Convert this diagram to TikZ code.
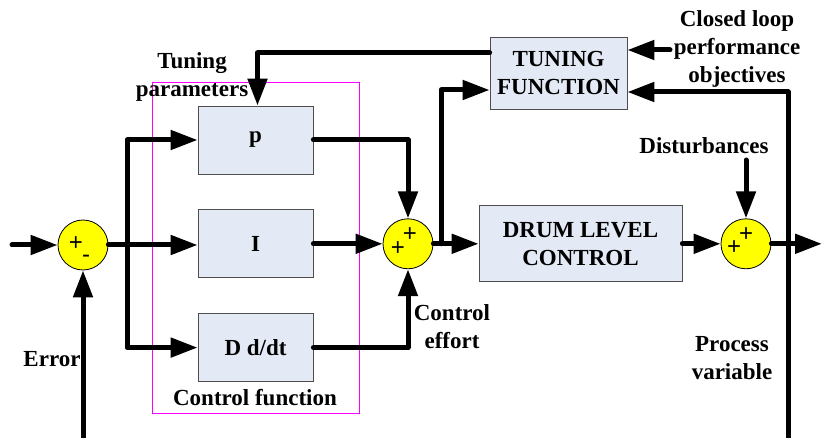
\documentclass[tikz,border=0pt]{standalone}
\usepackage{fontspec}
\setmainfont{Liberation Serif}
\setsansfont{Liberation Sans}
\usetikzlibrary{arrows.meta,positioning}
\definecolor{blockBlue}{HTML}{E4EAF5}
\definecolor{blockEdge}{HTML}{4D4D4D}
\definecolor{sumYellow}{HTML}{FFFF00}
\definecolor{frameMagenta}{HTML}{FF00FF}

\begin{document}
\begin{tikzpicture}[x=1pt, y=-1pt,
  block/.style={draw=blockEdge, fill=blockBlue, line width=0.8pt, align=center, font=\fontsize{23}{28}\selectfont\bfseries},
  pid/.style={block, minimum width=115pt, minimum height=68pt},
  summer/.style={circle, draw=black, line width=0.8pt, fill=sumYellow, minimum size=50pt, inner sep=0pt},
  sign/.style={inner sep=0pt, font=\fontsize{24}{24}\selectfont\sffamily},
  lbl/.style={align=center, inner sep=0pt, font=\fontsize{23}{28}\selectfont\bfseries},
  arrow/.style={-{Triangle[length=27pt, width=19pt]}, line width=5pt, line join=round, line cap=round}
]
\useasboundingbox (0,0) rectangle (822,438);
\draw[frameMagenta, line width=1pt] (152,83) rectangle (359,413);
\node[summer] (sum1) at (83,245) {};
\node[pid] (p) at (255.5,140) {p};
\node[pid, below=35pt of p] (i) {I};
\node[pid, below=35pt of i] (d) {D d/dt};
\path (i.center) ++(152.5,0) node[summer] (sum2) {};
\node[block, minimum width=137pt, minimum height=72pt] (tune) at (558.5,73) {TUNING\\FUNCTION};
\path (sum2.center) ++(172.5,0) node[block, minimum width=203pt, minimum height=76pt] (drum) {DRUM LEVEL\\CONTROL};
\path (sum2.center) ++(338,0) node[summer] (sum3) {};
% signs
\node[sign] (s1a) at (76,244) {+};
\node[sign] (s1b) at (86,259) {-};
\path (sum2.center) ++(2,-9) node[sign] (s2a) {+};
\path (sum2.center) ++(-10,5) node[sign] (s2b) {+};
\path (sum3.center) ++(0,-9) node[sign] (s3a) {+};
\path (sum3.center) ++(-12,4) node[sign] (s3b) {+};
% labels
\node[lbl] (errlbl) at (52,359) {Error};
\node[lbl] (tunlbl) at (192,77) {Tuning\\parameters};
\node[lbl] (funlbl) at (255,398) {Control function};
\node[lbl] (efflbl) at (452,327) {Control\\effort};
\node[lbl] (objlbl) at (737,49) {Closed loop\\performance\\objectives};
\node[lbl] (distlbl) at (704,146) {Disturbances};
\node[lbl] (pvlbl) at (732,358) {Process\\variable};
\coordinate (in) at (12,245);
\coordinate (err) at (83,438);
\coordinate (split) at (127,245);
\coordinate (tap) at (441,243);
\coordinate (distin) at (746,160);
\coordinate (out) at (822,243);
\coordinate (fb) at (788,438);
\coordinate (objin) at (670,50);
\draw[arrow] (in) -- (sum1.west);
\draw[arrow] (err) -- (sum1.south);
\draw[arrow] (sum1.east) -- (sum1.east -| i.west);
\draw[arrow] (split) |- (p.west);
\draw[arrow] (split) |- (d.west);
\draw[arrow] (p.east) -| (sum2.north);
\draw[arrow] (i.east) -- (sum2.west);
\draw[arrow] (d.east) -| (sum2.south);
\draw[arrow] (sum2.east) -- (drum.west);
\draw[arrow] (tap |- sum2.east) |- ([yshift=-17pt]tune.west);
\draw[arrow] ([yshift=20pt]tune.west) -| ([xshift=2pt]p.north);
\draw[arrow] (drum.east) -- (sum3.west);
\draw[arrow] (distin) -- (sum3.north);
\draw[arrow] (sum3.east) -- (sum3.east -| out);
\draw[arrow] (fb) |- ([yshift=-19pt]tune.east);
\draw[arrow] (objin) -- (objin -| tune.east);
\end{tikzpicture}
\end{document}
